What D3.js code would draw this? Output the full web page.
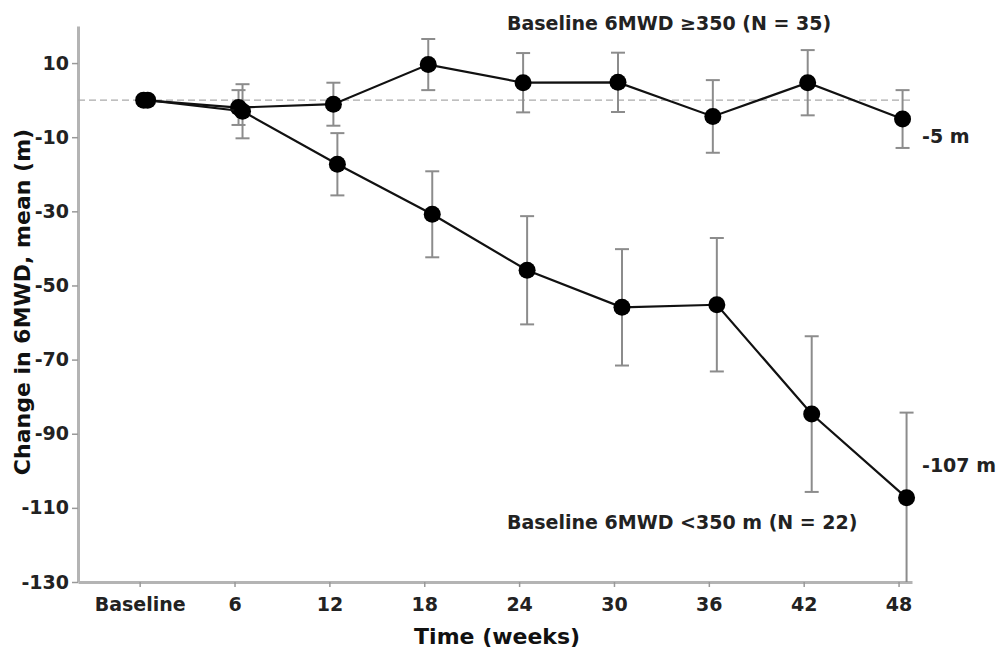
<!DOCTYPE html>
<html>
<head>
<meta charset="utf-8">
<script src="https://cdn.jsdelivr.net/npm/d3@7"></script>
<style>
  body { margin: 0; background: #fff; }
  text { font-family: "DejaVu Sans", sans-serif; }
</style>
</head>
<body>
<svg id="chart"></svg>
<script>
// weeks since baseline (0 = baseline)
let weeks = [0, 6, 12, 18, 24, 30, 36, 42, 48];
// baseline 6MWD >= 350 (N = 35)
let highMean = [0, -2.0, -1.1, 9.6, 4.7, 4.8, -4.4, 4.7, -5.1];
let highErr = [0, 4.7, 5.8, 6.9, 8.0, 8.0, 9.8, 8.8, 7.8];
// baseline 6MWD < 350 (N = 22)
let lowMean = [0, -3.0, -17.3, -30.8, -45.9, -55.9, -55.2, -84.7, -107.3];
let lowErr = [0, 7.3, 8.4, 11.6, 14.6, 15.7, 18.0, 21.0, 23.0];
let yTicks = [10, -10, -30, -50, -70, -90, -110, -130];

let width = 1000;
let height = 657;

let svg = d3.select("#chart").attr("width", width).attr("height", height);

// scales (x axis runs a little past baseline and week 48)
let x = d3.scaleLinear().domain([-3.9, 48.85]).range([78, 912]);
let y = d3.scaleLinear().domain([-130, 20]).range([582, 26]);

//axes
let xAxis = svg.append("g")
  .attr("transform", translate(0, y(-130)))
  .call(d3.axisBottom(x).tickValues(weeks).tickSize(5).tickPadding(11).tickSizeOuter(0)
    .tickFormat(d => d === 0 ? "Baseline" : String(d)));

// plain hyphen for negatives, like the original
let yAxis = svg.append("g")
  .attr("transform", translate(x(-3.9), 0))
  .call(d3.axisLeft(y).tickValues(yTicks).tickSize(6).tickPadding(3).tickSizeOuter(0)
    .tickFormat(d => String(d)));

[xAxis, yAxis].forEach(function(g) {
  g.select(".domain").attr("stroke", "#b4b4b4").attr("stroke-width", 3);
  g.selectAll(".tick line").attr("stroke", "#999").attr("stroke-width", 1.5);
  g.selectAll(".tick text")
    .attr("fill", "#222")
    .style("font-size", "19px")
    .style("font-weight", "bold")
    .style("font-family", "'DejaVu Sans', sans-serif");
});

// zero reference line
svg.append("line")
  .attr("x1", x(-3.9)).attr("x2", x(48.85))
  .attr("y1", y(0)).attr("y2", y(0))
  .attr("stroke", "#aaa")
  .attr("stroke-width", 1.3)
  .attr("stroke-dasharray", "7,4");

let groups = [
  {name: "high", mean: highMean, err: highErr, dx: 4},
  {name: "low", mean: lowMean, err: lowErr, dx: 8}
];

let plot = svg.append("g").attr("id", "plot");
let cap = 7;

// error bars first so lines sit on top
groups.forEach(function(grp) {
  let rows = weeks.map((w, i) => ({
    w: w,
    lo: Math.max(grp.mean[i] - grp.err[i], -130),
    hi: grp.mean[i] + grp.err[i],
    err: grp.err[i]
  })).filter(r => r.err > 0);

  let bars = plot.append("g").attr("class", "err-" + grp.name)
    .attr("stroke", "#8c8c8c").attr("stroke-width", 2);

  bars.selectAll("line.v").data(rows).enter().append("line")
    .attr("x1", d => x(d.w) + grp.dx).attr("x2", d => x(d.w) + grp.dx)
    .attr("y1", d => y(d.hi)).attr("y2", d => y(d.lo));
  bars.selectAll("line.top").data(rows).enter().append("line")
    .attr("x1", d => x(d.w) + grp.dx - cap).attr("x2", d => x(d.w) + grp.dx + cap)
    .attr("y1", d => y(d.hi)).attr("y2", d => y(d.hi));
  bars.selectAll("line.bot").data(rows.filter(r => r.lo > -130)).enter().append("line")
    .attr("x1", d => x(d.w) + grp.dx - cap).attr("x2", d => x(d.w) + grp.dx + cap)
    .attr("y1", d => y(d.lo)).attr("y2", d => y(d.lo));
});

groups.forEach(function(grp) {
  let pts = weeks.map((w, i) => ({w: w, v: grp.mean[i]}));
  let line = d3.line().x(d => x(d.w) + grp.dx).y(d => y(d.v));
  plot.append("path")
    .attr("d", line(pts))
    .attr("fill", "none")
    .attr("stroke", "#111")
    .attr("stroke-width", 2.2);
  plot.selectAll("circle." + grp.name).data(pts).enter().append("circle")
    .attr("class", grp.name)
    .attr("cx", d => x(d.w) + grp.dx)
    .attr("cy", d => y(d.v))
    .attr("r", 8.5)
    .attr("fill", "#000");
});

// annotations
let labels = svg.append("g").attr("fill", "#222").style("font-weight", "bold");
labels.append("text").attr("x", 507).attr("y", 30).style("font-size", "19px")
  .text("Baseline 6MWD \u2265350 (N = 35)");
labels.append("text").attr("x", 507).attr("y", 529).style("font-size", "19px")
  .text("Baseline 6MWD <350 m (N = 22)");
labels.append("text").attr("x", 922).attr("y", y(highMean[8]) + 24).style("font-size", "19px")
  .text("-5 m");
labels.append("text").attr("x", 922).attr("y", y(lowMean[8]) - 26).style("font-size", "19px")
  .text("-107 m");

// axis titles
svg.append("text")
  .attr("x", (x(0) + x(48)) / 2 - 22)
  .attr("y", 644)
  .attr("text-anchor", "middle")
  .attr("fill", "#111")
  .style("font-size", "22px").style("font-weight", "bold")
  .text("Time (weeks)");

svg.append("text")
  .attr("transform", translate(30, 302) + " rotate(-90)")
  .attr("text-anchor", "middle")
  .attr("fill", "#111")
  .style("font-size", "22px").style("font-weight", "bold")
  .text("Change in 6MWD, mean (m)");

function translate(x, y) {
  return 'translate(' + String(x) + ',' + String(y) + ')';
}
</script>
</body>
</html>
